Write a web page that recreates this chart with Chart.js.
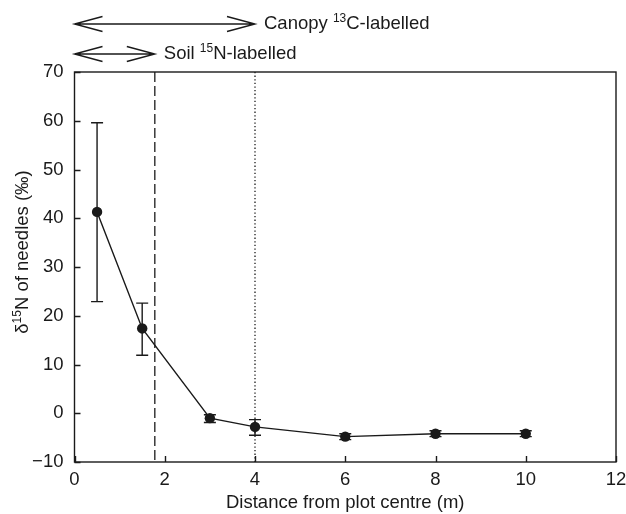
<!DOCTYPE html>
<html>
<head>
<meta charset="utf-8">
<script src="https://cdn.jsdelivr.net/npm/chart.js@4/dist/chart.umd.min.js"></script>
<style>
  html, body { margin: 0; padding: 0; background: #fff; }
  #wrap { width: 626px; height: 514px; }
</style>
</head>
<body>
<div id="wrap"><canvas id="Chart" width="626" height="514"></canvas></div>
<script>
// distance from plot centre (m) and needle d15N (permil)
const distance = [0.5, 1.5, 3, 4, 6, 8, 10];
const d15N = [41.3, 17.4, -1.0, -2.8, -4.8, -4.2, -4.2];
const errLow = [22.9, 11.9, -1.9, -4.5, -5.4, -4.8, -4.8];
const errHigh = [59.6, 22.6, -0.3, -1.3, -4.2, -3.6, -3.6];
const xTicks = [0, 2, 4, 6, 8, 10, 12];
const yTicks = [-10, 0, 10, 20, 30, 40, 50, 60, 70];
const soilLimit = 1.78;   // dashed line
const canopyLimit = 4;    // dotted line

const ink = '#1a1a1a';
const fontFam = '"Liberation Sans", Arial, Helvetica, sans-serif';
const fs = 18.5;

// draws the frame, inner ticks, error bars, limit lines, arrows and y title
const extras = {
  id: 'extras',
  beforeDatasetsDraw(chart) {
    const ctx = chart.ctx, a = chart.chartArea;
    const xs = chart.scales.x, ys = chart.scales.y;
    ctx.save();
    ctx.strokeStyle = ink;
    ctx.lineWidth = 1.3;
    // limit lines
    ctx.setLineDash([10, 4]);
    ctx.beginPath();
    ctx.moveTo(xs.getPixelForValue(soilLimit), a.top);
    ctx.lineTo(xs.getPixelForValue(soilLimit), a.bottom);
    ctx.stroke();
    ctx.setLineDash([1.3, 2.3]);
    ctx.beginPath();
    ctx.moveTo(xs.getPixelForValue(canopyLimit), a.top);
    ctx.lineTo(xs.getPixelForValue(canopyLimit), a.bottom);
    ctx.stroke();
    ctx.setLineDash([]);
    // error bars
    ctx.lineWidth = 1.4;
    distance.forEach((d, i) => {
      const px = xs.getPixelForValue(d);
      const lo = ys.getPixelForValue(errLow[i]);
      const hi = ys.getPixelForValue(errHigh[i]);
      ctx.beginPath();
      ctx.moveTo(px, lo); ctx.lineTo(px, hi);
      ctx.moveTo(px - 6, lo); ctx.lineTo(px + 6, lo);
      ctx.moveTo(px - 6, hi); ctx.lineTo(px + 6, hi);
      ctx.stroke();
    });
    ctx.restore();
  },
  afterDraw(chart) {
    const ctx = chart.ctx, a = chart.chartArea;
    const xs = chart.scales.x, ys = chart.scales.y;
    ctx.save();
    ctx.strokeStyle = ink;
    ctx.lineWidth = 1.4;
    ctx.strokeRect(a.left, a.top, a.right - a.left, a.bottom - a.top);
    // inward ticks
    ctx.beginPath();
    xTicks.forEach(t => {
      const px = Math.round(xs.getPixelForValue(t)) + 0.5;
      ctx.moveTo(px, a.bottom); ctx.lineTo(px, a.bottom - 6);
    });
    yTicks.forEach(t => {
      const py = Math.round(ys.getPixelForValue(t)) + 0.5;
      ctx.moveTo(a.left, py); ctx.lineTo(a.left + 6, py);
    });
    ctx.stroke();

    // arrows above the plot
    function arrow(x0, x1, y) {
      ctx.beginPath();
      ctx.moveTo(x0, y); ctx.lineTo(x1, y);
      ctx.moveTo(x0 + 28, y - 7.5); ctx.lineTo(x0, y); ctx.lineTo(x0 + 28, y + 7.5);
      ctx.moveTo(x1 - 28, y - 7.5); ctx.lineTo(x1, y); ctx.lineTo(x1 - 28, y + 7.5);
      ctx.stroke();
    }
    function supText(parts, x, y) {
      let cx = x;
      parts.forEach(p => {
        ctx.font = (p.sup ? '12px ' : fs + 'px ') + fontFam;
        ctx.fillText(p.t, cx, p.sup ? y - 5 : y);
        cx += ctx.measureText(p.t).width;
      });
    }
    ctx.lineWidth = 1.4;
    const left = xs.getPixelForValue(0);
    const cEnd = xs.getPixelForValue(canopyLimit);
    const sEnd = xs.getPixelForValue(soilLimit);
    arrow(left, cEnd, 24);
    arrow(left, sEnd, 54);
    ctx.fillStyle = ink;
    ctx.textBaseline = 'middle';
    ctx.textAlign = 'left';
    supText([{t: 'Canopy '}, {t: '13', sup: true}, {t: 'C-labelled'}], cEnd + 9, 24);
    supText([{t: 'Soil '}, {t: '15', sup: true}, {t: 'N-labelled'}], sEnd + 9, 54);

    // y axis title
    ctx.save();
    ctx.translate(23, 252);
    ctx.rotate(-Math.PI / 2);
    const parts = [{t: 'δ'}, {t: '15', sup: true}, {t: 'N of needles (‰)'}];
    let w = 0;
    parts.forEach(p => { ctx.font = (p.sup ? '12px ' : fs + 'px ') + fontFam; w += ctx.measureText(p.t).width; });
    supText(parts, -w / 2, 0);
    ctx.restore();
    ctx.restore();
  }
};

new Chart(document.getElementById('Chart').getContext('2d'), {
  type: 'scatter',
  data: {
    datasets: [{
      data: distance.map((d, i) => ({x: d, y: d15N[i]})),
      showLine: true,
      borderColor: ink,
      borderWidth: 1.4,
      pointRadius: 5.2,
      pointBackgroundColor: ink,
      pointBorderColor: ink,
      pointBorderWidth: 0
    }]
  },
  options: {
    responsive: false,
    animation: false,
    layout: { padding: { left: 0, top: 72, right: 10, bottom: 0 } },
    plugins: { legend: { display: false }, tooltip: { enabled: false } },
    scales: {
      x: {
        type: 'linear', min: 0, max: 12,
        afterFit(s) { s.height = 52; s.paddingRight = 0; s.paddingLeft = 0; },
        afterBuildTicks(s) { s.ticks = xTicks.map(v => ({value: v})); },
        grid: { display: false, drawTicks: false },
        border: { display: false },
        ticks: { color: ink, padding: 7, font: { size: fs, family: fontFam }, maxRotation: 0 },
        title: { display: true, text: 'Distance from plot centre (m)', color: ink,
                 font: { size: fs, family: fontFam }, padding: { top: 4, bottom: 0 } }
      },
      y: {
        type: 'linear', min: -10, max: 70,
        afterFit(s) { s.width = 74.5; s.paddingTop = 0; s.paddingBottom = 0; },
        afterBuildTicks(s) { s.ticks = yTicks.map(v => ({value: v})); },
        grid: { display: false, drawTicks: false },
        border: { display: false },
        ticks: { color: ink, padding: 11, font: { size: fs, family: fontFam },
                 callback: v => v < 0 ? '\u2212' + Math.abs(v) : v }
      }
    }
  },
  plugins: [extras]
});
</script>
</body>
</html>
